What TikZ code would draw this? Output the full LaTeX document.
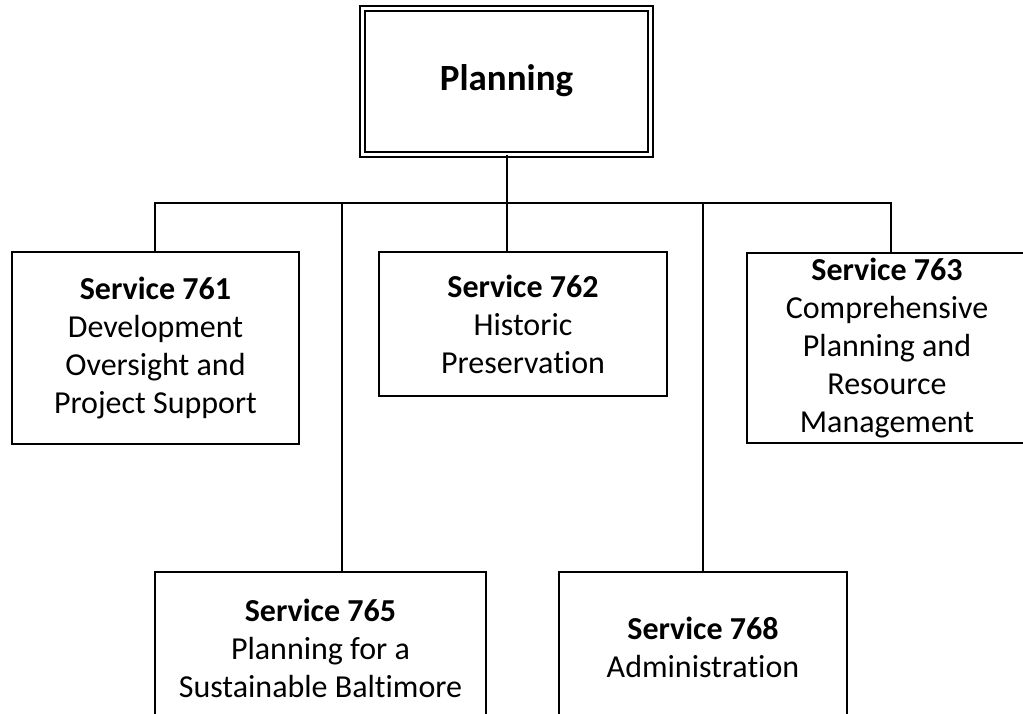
\documentclass[tikz,border=0pt]{standalone}
\usepackage{fontspec}
\setmainfont{Carlito}[Ligatures=NoCommon]
\begin{document}
\begin{tikzpicture}[x=1pt,y=-1pt,line width=2pt,
		unit/.style={draw=black,rectangle,inner sep=0pt,align=center,font=\fontsize{32}{38}\selectfont},
		head/.style={draw=black,double,double distance=3pt,rectangle,inner sep=0pt,font=\fontsize{37}{44}\selectfont\bfseries}]
		\clip (0,0) rectangle (1023,713);
		% department
		\node[head,minimum width=288pt,minimum height=146pt] (plan) at (506.5,81) {Planning};
		% services
		\node[unit,minimum width=287pt,minimum height=192pt] (s761) at (155.5,348) {\textbf{Service 761}\\Development\\Oversight and\\Project Support};
		\node[unit,minimum width=288pt,minimum height=144pt] (s762) at (523,324) {\textbf{Service 762}\\Historic\\Preservation};
		\node[unit,minimum width=280pt,minimum height=190pt] (s763) at (887,348) {\textbf{Service 763}\\Comprehensive\\Planning and\\Resource\\Management};
		\node[unit,minimum width=331pt,minimum height=152pt] (s765) at (320.5,648) {\textbf{Service 765}\\Planning for a\\Sustainable Baltimore};
		\node[unit,minimum width=288pt,minimum height=150pt] (s768) at (703,647) {\textbf{Service 768}\\Administration};
		
		\coordinate (busL) at (155,203);
		\coordinate (busR) at (891,203);
		\coordinate (tap765) at (342,203);
		\draw (busL |- s761.north) -- (busL) -- (busR) -- (busR |- s763.north);
		\draw (plan) -- (plan |- busL) -- (plan |- s762.north);
		\draw (tap765) -- (tap765 |- s765.north);
		\draw (s768 |- busL) -- (s768);
		
	\end{tikzpicture}
\end{document}
